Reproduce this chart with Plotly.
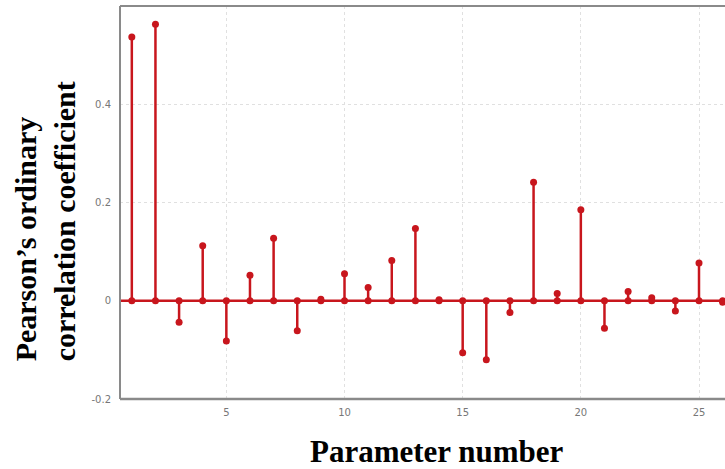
import plotly.graph_objects as go

param = list(range(1, 27))
corr = [0.537, 0.563, -0.044, 0.112, -0.082, 0.052, 0.127, -0.061, 0.003, 0.055,
        0.027, 0.082, 0.147, 0.002, -0.106, -0.120, -0.024, 0.241, 0.015, 0.185,
        -0.056, 0.019, 0.006, -0.021, 0.077, -0.003]

x_ticks = [5, 10, 15, 20, 25]
y_ticks = [-0.2, 0, 0.2, 0.4]
y_tick_text = ["-0.2", "0", "0.2", "0.4"]

RED = "#c8161d"

sx, sy = [], []
for x, y in zip(param, corr):
    sx += [x, x, None]
    sy += [0, y, None]

fig = go.Figure()
fig.add_trace(go.Scatter(x=sx, y=sy, mode="lines", line=dict(color=RED, width=2.5),
                         hoverinfo="skip", showlegend=False))
fig.add_trace(go.Scatter(x=param, y=[0] * len(param), mode="markers",
                         marker=dict(color=RED, size=7), showlegend=False))
fig.add_trace(go.Scatter(x=param, y=corr, mode="markers",
                         marker=dict(color=RED, size=7), showlegend=False))

fig.add_shape(type="line", xref="paper", x0=0, x1=1, yref="y", y0=0, y1=0,
              line=dict(color=RED, width=2.5))
# frame: left, top, bottom
fig.add_shape(type="line", xref="paper", yref="paper", x0=0, x1=0, y0=0, y1=1,
              line=dict(color="#8a8a8a", width=2))
fig.add_shape(type="line", xref="paper", yref="paper", x0=0, x1=1, y0=1, y1=1,
              line=dict(color="#8a8a8a", width=2))
fig.add_shape(type="line", xref="paper", yref="paper", x0=0, x1=1, y0=0, y1=0,
              line=dict(color="#8a8a8a", width=2.5))

fig.update_layout(
    width=725, height=469,
    margin=dict(l=120, r=0, t=6, b=70),
    paper_bgcolor="white", plot_bgcolor="white",
    xaxis=dict(range=[0.5, 26.1], tickvals=x_ticks, ticktext=[str(v) for v in x_ticks],
               showgrid=True, gridcolor="#e0e0e0", griddash="dot", gridwidth=1,
               zeroline=False, showline=False, ticks="", ticklabelstandoff=6,
               tickfont=dict(family="DejaVu Sans", size=10, color="#777777")),
    yaxis=dict(range=[-0.2, 0.6], tickvals=y_ticks, ticktext=y_tick_text,
               showgrid=True, gridcolor="#e0e0e0", griddash="dot", gridwidth=1,
               zeroline=False, showline=False, ticks="", ticklabelstandoff=8,
               tickfont=dict(family="DejaVu Sans", size=10, color="#777777")),
    font=dict(family="Liberation Serif"),
)

fig.add_annotation(text="<b>Parameter number</b>", xref="paper", yref="paper",
                   x=0.524, y=0, yshift=-52, xanchor="center", yanchor="middle",
                   showarrow=False,
                   font=dict(family="Liberation Serif", size=31, color="black"))
fig.add_annotation(text="<b>Pearson’s ordinary<br>correlation coefficient</b>",
                   xref="paper", yref="paper", x=0, xshift=-75, y=0.452,
                   xanchor="center", yanchor="middle", align="left",
                   textangle=-90, showarrow=False,
                   font=dict(family="Liberation Serif", size=30, color="black"))

fig.write_html("out.html", config={"displayModeBar": False},
               post_script="document.body.style.margin='0';")
